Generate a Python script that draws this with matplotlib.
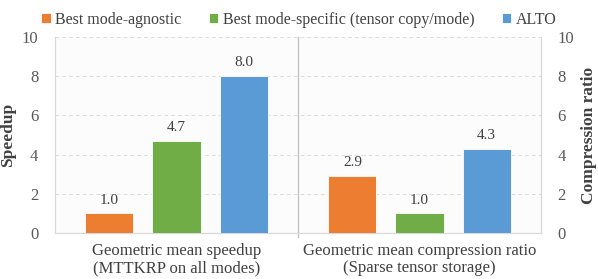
import matplotlib
matplotlib.use("Agg")
import matplotlib.pyplot as plt
import numpy as np

categories = ["Geometric mean speedup\n(MTTKRP on all modes)",
              "Geometric mean compression ratio\n(Sparse tensor storage)"]
series_names = ["Best mode-agnostic", "Best mode-specific (tensor copy/mode)", "ALTO"]
mode_agnostic = [1.0, 2.9]
mode_specific = [4.7, 1.0]
alto = [8.0, 4.3]
colors = ["#ED7D31", "#70AD47", "#5B9BD5"]
yticks = [0, 2, 4, 6, 8, 10]

plt.rcParams['font.family'] = ['Liberation Serif', 'DejaVu Serif']
fig = plt.figure(figsize=(5.98, 2.79), dpi=100)
ax = fig.add_axes([55/598, 1-233/279, (541-55)/598, (233-37)/279])
ax.set_facecolor("#fcfcfc")

x = np.arange(len(categories))
offset = 0.276
width = 0.198
data = [mode_agnostic, mode_specific, alto]
for i, (vals, name, c) in enumerate(zip(data, series_names, colors)):
    bars = ax.bar(x + (i-1)*offset, vals, width, color=c, label=name,
                  edgecolor="white", linewidth=0.6, zorder=3)
    for b, v in zip(bars, vals):
        ax.text(b.get_x()+b.get_width()/2, v+0.35, f"{v:.1f}", ha="center", va="bottom",
                fontsize=11, color="#404040")

ax.set_xlim(-0.5, 1.5)
ax.set_ylim(0, 10)
ax.set_yticks(yticks)
ax.set_yticklabels([str(t) for t in yticks], fontsize=12, color="#595959")
ax.yaxis.grid(True, linestyle=(0, (4, 3)), color="#dddddd", linewidth=0.7, zorder=0)
ax.set_xticks(x)
ax.set_xticklabels(categories, fontsize=12, color="#404040", linespacing=1.1)
ax.tick_params(axis="y", length=0, pad=12)
ax.tick_params(axis="x", length=0, pad=7)
ax.axvline(0.5, color="#bfbfbf", linewidth=0.9, zorder=1, ymin=-0.02, clip_on=False)
for s in ["left", "right", "bottom"]:
    ax.spines[s].set_color("#d9d9d9")
    ax.spines[s].set_linewidth(0.9)
ax.spines["top"].set_visible(False)
ax.set_ylabel("Speedup", fontsize=12.5, fontweight="bold", color="#404040", labelpad=4)

ax2 = ax.twinx()
ax2.set_ylim(0, 10)
ax2.set_yticks(yticks)
ax2.set_yticklabels([str(t) for t in yticks], fontsize=12, color="#595959")
ax2.tick_params(axis="y", length=0, pad=12)
for s in ["left", "right", "bottom", "top"]:
    ax2.spines[s].set_visible(False)
ax2.set_ylabel("Compression ratio", fontsize=12.5, fontweight="bold", color="#404040", labelpad=5)

leg = fig.legend(loc="upper center", bbox_to_anchor=(0.5, 1.01), ncol=3, frameon=False,
                 fontsize=11.5, handlelength=0.6, handleheight=0.6, handletextpad=0.3,
                 columnspacing=1.7, labelcolor="#404040")

fig.savefig("out.png", dpi=100)
